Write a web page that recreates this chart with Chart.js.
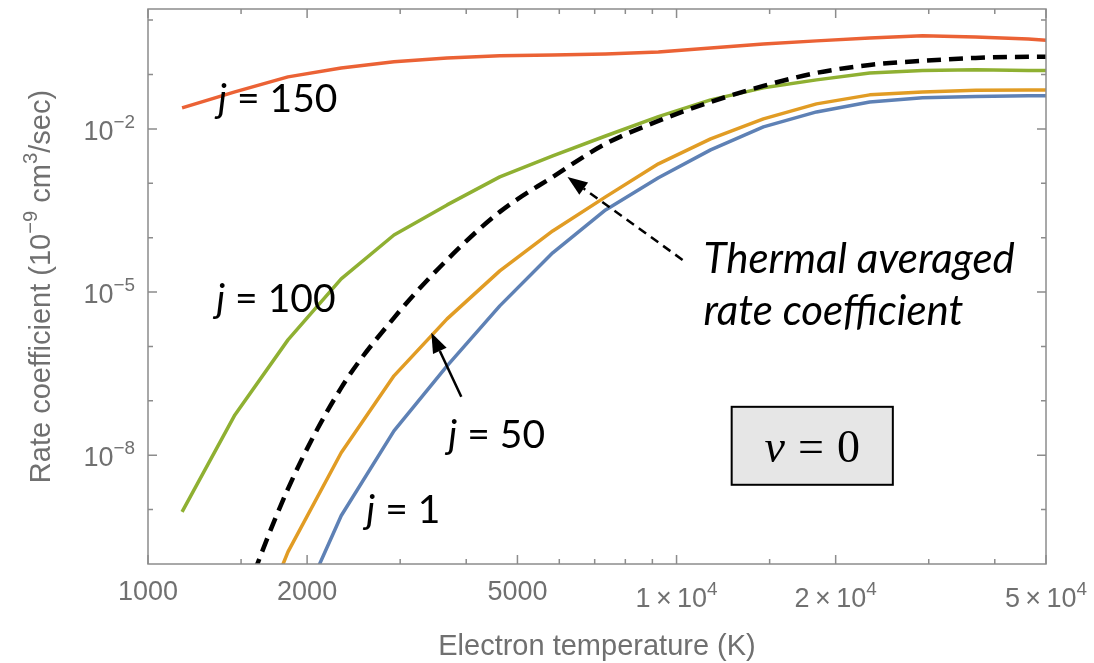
<!DOCTYPE html>
<html>
<head>
<meta charset="utf-8">
<script src="https://cdn.jsdelivr.net/npm/chart.js@4"></script>
<style>
  html, body { margin: 0; padding: 0; background: #fff; }
  #wrap { width: 1094px; height: 663px; }
</style>
</head>
<body>
<div id="wrap"><canvas id="rate-chart"></canvas></div>
<script>
// electron temperature grid (K), 0.1 decade steps
const temperatures = [1160, 1460, 1840, 2320, 2920, 3680, 4630, 5830, 7340, 9240, 11600, 14600, 18400, 23200, 29200, 36800, 46300, 58300];

// rate coefficients in units of 1e-9 cm^3/sec
const rateJ150 = [0.0243, 0.0479, 0.0904, 0.132, 0.171, 0.202, 0.220, 0.229, 0.239, 0.260, 0.308, 0.365, 0.415, 0.471, 0.513, 0.491, 0.451, 0.381];
const rateJ100 = [9.1e-10, 5.5e-8, 1.32e-6, 1.75e-5, 1.12e-4, 4.0e-4, 1.31e-3, 3.19e-3, 7.4e-3, 0.0168, 0.0341, 0.0568, 0.0796, 0.107, 0.119, 0.122, 0.119, 0.116];
const rateJ50 = [1.3e-15, 6.5e-13, 1.67e-10, 1.11e-8, 2.88e-7, 3.21e-6, 2.45e-5, 1.33e-4, 5.62e-4, 2.28e-3, 6.55e-3, 0.0153, 0.0288, 0.0422, 0.0479, 0.0511, 0.0521, 0.0521];
const rateJ1 = [8.1e-18, 7.1e-15, 5.0e-12, 7.7e-10, 2.81e-8, 4.40e-7, 5.57e-6, 5.26e-5, 3.24e-4, 1.26e-3, 4.11e-3, 0.0109, 0.0205, 0.0313, 0.0372, 0.0395, 0.0405, 0.0405];
const rateThermal = [1.07e-14, 7.6e-12, 2.41e-9, 1.73e-7, 3.36e-6, 3.91e-5, 2.98e-4, 1.31e-3, 5.30e-3, 0.0140, 0.0313, 0.0617, 0.107, 0.150, 0.178, 0.202, 0.211, 0.211];

// frame ticks and their labels ([text, superscript?] parts)
const xMajorTicks = [1000, 2000, 5000, 10000, 20000, 50000];
const xMinorTicks = [1500, 3000, 4000, 6000, 7000, 8000, 9000, 15000, 30000, 40000];
const xTickLabels = [[['1000']], [['2000']], [['5000']], [['1\u2009\u00d7\u200910'], ['4', 1]], [['2\u2009\u00d7\u200910'], ['4', 1]], [['5\u2009\u00d7\u200910'], ['4', 1]]];
const yMajorTicks = [1e-2, 1e-5, 1e-8];
const yMinorTicks = [1, 1e-1, 1e-3, 1e-4, 1e-6, 1e-7, 1e-9];
const yTickLabels = [[['10'], ['\u22122', 1]], [['10'], ['\u22125', 1]], [['10'], ['\u22128', 1]]];

const labelFont = '"Liberation Sans", Arial, sans-serif';
const noteFont = 'Lato, "Open Sans", sans-serif';
const serifFont = '"Liberation Serif", "Times New Roman", serif';

const pts = vals => temperatures.map((t, i) => ({ x: t, y: vals[i] }));

function drawRich(ctx, parts, x, y, size, align) {
  const sup = size * 0.7;
  let total = 0;
  const widths = parts.map(([t, s]) => {
    ctx.font = (s ? sup : size) + 'px ' + labelFont;
    const w = ctx.measureText(t).width;
    total += w;
    return w;
  });
  let cx = align === 'center' ? x - total / 2 : align === 'right' ? x - total : x;
  parts.forEach(([t, s], i) => {
    ctx.font = (s ? sup : size) + 'px ' + labelFont;
    ctx.fillText(t, cx, s ? y - size * 0.45 : y);
    cx += widths[i];
  });
}

function arrow(ctx, x0, y0, x1, y1, dash) {
  const ang = Math.atan2(y1 - y0, x1 - x0);
  const head = 20, half = 7.5;
  const bx = x1 - head * Math.cos(ang), by = y1 - head * Math.sin(ang);
  ctx.strokeStyle = '#000';
  ctx.fillStyle = '#000';
  ctx.lineWidth = 2.5;
  ctx.setLineDash(dash);
  ctx.beginPath(); ctx.moveTo(x0, y0); ctx.lineTo(bx, by); ctx.stroke();
  ctx.setLineDash([]);
  ctx.beginPath();
  ctx.moveTo(x1, y1);
  ctx.lineTo(bx - half * Math.sin(ang), by + half * Math.cos(ang));
  ctx.lineTo(bx + half * Math.sin(ang), by - half * Math.cos(ang));
  ctx.closePath();
  ctx.fill();
}

// frame with inward ticks on all four sides, tick labels and axis titles
const frameTicks = {
  id: 'frameTicks',
  afterDatasetsDraw(chart) {
    const { ctx, chartArea: a, scales: { x, y } } = chart;
    ctx.save();
    ctx.strokeStyle = '#8c8c8c';
    ctx.lineWidth = 1.5;
    ctx.strokeRect(a.left, a.top, a.right - a.left, a.bottom - a.top);
    const xt = (v, len) => {
      const p = x.getPixelForValue(v);
      ctx.beginPath();
      ctx.moveTo(p, a.bottom); ctx.lineTo(p, a.bottom - len);
      ctx.moveTo(p, a.top); ctx.lineTo(p, a.top + len);
      ctx.stroke();
    };
    const yt = (v, len) => {
      const p = y.getPixelForValue(v);
      ctx.beginPath();
      ctx.moveTo(a.left, p); ctx.lineTo(a.left + len, p);
      ctx.moveTo(a.right, p); ctx.lineTo(a.right - len, p);
      ctx.stroke();
    };
    xMajorTicks.forEach(v => xt(v, 9));
    xMinorTicks.forEach(v => xt(v, 5));
    yMajorTicks.forEach(v => yt(v, 9));
    yMinorTicks.forEach(v => yt(v, 5));

    ctx.fillStyle = '#707070';
    ctx.textBaseline = 'alphabetic';
    xMajorTicks.forEach((v, i) => {
      const parts = xTickLabels[i];
      drawRich(ctx, parts, x.getPixelForValue(v), a.bottom + (parts.length > 1 ? 43 : 36), 27, 'center');
    });
    yMajorTicks.forEach((v, i) => {
      drawRich(ctx, yTickLabels[i], a.left - 13, y.getPixelForValue(v) + 11, 27, 'right');
    });

    drawRich(ctx, [['Electron temperature (K)']], (a.left + a.right) / 2, 655, 29, 'center');
    ctx.save();
    ctx.translate(50, (a.top + a.bottom) / 2);
    ctx.rotate(-Math.PI / 2);
    drawRich(ctx, [['Rate coefficient (10'], ['\u22129', 1], [' cm'], ['3', 1], ['/sec)']], 0, 0, 29, 'center');
    ctx.restore();
    ctx.restore();
  }
};

// curve labels, arrows and the v = 0 box, placed in data coordinates
const notes = {
  id: 'notes',
  afterDraw(chart) {
    const { ctx, scales: { x, y } } = chart;
    const X = t => x.getPixelForValue(t), Y = k => y.getPixelForValue(k);
    ctx.save();
    ctx.fillStyle = '#000';
    ctx.textBaseline = 'alphabetic';
    const jLabel = (rest, t, k) => {
      ctx.font = 'italic 39px ' + noteFont;
      ctx.fillText('j', X(t), Y(k));
      const w = ctx.measureText('j').width;
      ctx.font = '39px ' + noteFont;
      ctx.fillText(' = ' + rest, X(t) + w, Y(k));
    };
    jLabel('150', 1357, 0.0205);
    jLabel('100', 1346, 4.33e-6);
    jLabel('50', 3700, 1.37e-8);
    jLabel('1', 2588, 5.7e-10);

    ctx.font = 'italic 42px ' + noteFont;
    ctx.fillText('Thermal averaged', X(11250), Y(2.25e-5));
    ctx.fillText('rate coefficient', X(11250), Y(2.49e-6));

    arrow(ctx, X(10266), Y(3.9e-5), X(6218), Y(1.31e-3), [9, 6]);
    arrow(ctx, X(3915), Y(1.19e-7), X(3436), Y(1.78e-6), []);

    // v = 0 box
    const bx0 = X(12714), by0 = Y(7.76e-8), bx1 = X(25656), by1 = Y(2.86e-9);
    ctx.fillStyle = '#e6e6e6';
    ctx.fillRect(bx0, by0, bx1 - bx0, by1 - by0);
    ctx.strokeStyle = '#000';
    ctx.lineWidth = 2;
    ctx.strokeRect(bx0, by0, bx1 - bx0, by1 - by0);
    ctx.fillStyle = '#000';
    const gap = 13;
    ctx.font = 'italic 46px ' + serifFont;
    const wv = ctx.measureText('v').width;
    ctx.font = '46px ' + serifFont;
    const we = ctx.measureText('=').width, w0 = ctx.measureText('0').width;
    let cx = (bx0 + bx1) / 2 - (wv + we + w0 + 2 * gap) / 2;
    const base = (by0 + by1) / 2 + 16;
    ctx.font = 'italic 46px ' + serifFont;
    ctx.fillText('v', cx, base);
    cx += wv + gap;
    ctx.font = '46px ' + serifFont;
    ctx.fillText('=', cx, base);
    cx += we + gap;
    ctx.fillText('0', cx, base);
    ctx.restore();
  }
};

const rateChart = document.getElementById('rate-chart');
new Chart(rateChart, {
  type: 'line',
  data: {
    datasets: [
      {
        label: 'Thermal averaged',
        data: pts(rateThermal),
        borderColor: '#000',
        borderWidth: 4.5,
        borderDash: [14, 8],
        cubicInterpolationMode: 'monotone'
      },
      { label: 'j = 150', data: pts(rateJ150), borderColor: '#eb6235', borderWidth: 3.5 },
      { label: 'j = 100', data: pts(rateJ100), borderColor: '#8fb032', borderWidth: 3.5 },
      { label: 'j = 50', data: pts(rateJ50), borderColor: '#e19c24', borderWidth: 3.5 },
      { label: 'j = 1', data: pts(rateJ1), borderColor: '#5e81b5', borderWidth: 3.5 }
    ]
  },
  options: {
    responsive: true,
    maintainAspectRatio: false,
    animation: false,
    layout: { padding: { left: 0, top: 9, right: 48, bottom: 0 } },
    elements: { point: { radius: 0 }, line: { fill: false, tension: 0, borderJoinStyle: 'round' } },
    plugins: { legend: { display: false }, tooltip: { enabled: false } },
    scales: {
      x: {
        type: 'logarithmic',
        min: 1000,
        max: 50000,
        grid: { display: false },
        border: { display: false },
        ticks: { display: false },
        afterFit: s => { s.height = 99; }
      },
      y: {
        type: 'logarithmic',
        min: 1e-10,
        max: 1.6,
        grid: { display: false },
        border: { display: false },
        ticks: { display: false },
        afterFit: s => { s.width = 148; }
      }
    }
  },
  plugins: [frameTicks, notes]
});
</script>
</body>
</html>
